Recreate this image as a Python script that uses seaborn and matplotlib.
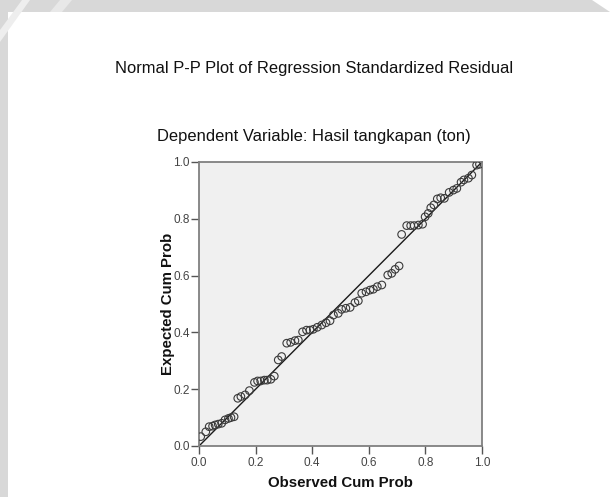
import matplotlib
matplotlib.use("Agg")
import matplotlib.pyplot as plt
import seaborn as sns
import pandas as pd
from matplotlib.patches import Polygon

# ---- data ----
observed_cum_prob = [
    0.006, 0.024, 0.036, 0.048, 0.057, 0.068, 0.080, 0.092, 0.104, 0.113, 0.124,
    0.137, 0.148, 0.163, 0.178, 0.196, 0.207, 0.218, 0.231, 0.241, 0.254, 0.266,
    0.280, 0.292, 0.310, 0.324, 0.339, 0.351, 0.366, 0.380, 0.392, 0.404, 0.418,
    0.434, 0.449, 0.463, 0.475, 0.492,
    0.504, 0.519, 0.534, 0.551, 0.563, 0.575, 0.590, 0.604, 0.616, 0.630, 0.646,
    0.667, 0.681, 0.693, 0.707,
    0.716, 0.734, 0.748, 0.760, 0.775, 0.790, 0.799, 0.810, 0.819, 0.830, 0.842,
    0.854, 0.867, 0.884, 0.899, 0.911, 0.926, 0.936, 0.952, 0.964, 0.981, 0.991,
]
expected_cum_prob = [
    0.033, 0.050, 0.068, 0.070, 0.074, 0.077, 0.080, 0.092, 0.097, 0.100, 0.103,
    0.168, 0.174, 0.180, 0.195, 0.224, 0.229, 0.229, 0.232, 0.232, 0.235, 0.246,
    0.303, 0.315, 0.362, 0.365, 0.371, 0.373, 0.402, 0.408, 0.408, 0.411, 0.418,
    0.426, 0.434, 0.441, 0.461, 0.467,
    0.481, 0.485, 0.488, 0.505, 0.511, 0.538, 0.543, 0.549, 0.552, 0.561, 0.567,
    0.602, 0.608, 0.622, 0.634,
    0.745, 0.776, 0.776, 0.776, 0.778, 0.781, 0.807, 0.819, 0.839, 0.849, 0.870,
    0.874, 0.872, 0.893, 0.901, 0.907, 0.929, 0.937, 0.943, 0.954, 0.989, 0.992,
]
reference_line = [0.0, 1.0]
tick_values = [0.0, 0.2, 0.4, 0.6, 0.8, 1.0]
tick_labels = ["0.0", "0.2", "0.4", "0.6", "0.8", "1.0"]

title_text = "Normal P-P Plot of Regression Standardized Residual"
subtitle_text = "Dependent Variable: Hasil tangkapan (ton)"
x_label = "Observed Cum Prob"
y_label = "Expected Cum Prob"

df = pd.DataFrame({"obs": observed_cum_prob, "exp": expected_cum_prob})

sns.set_theme(style="white")
plt.rcParams["font.family"] = ["Liberation Sans", "DejaVu Sans"]

W, H = 610, 497
fig = plt.figure(figsize=(W / 100, H / 100), dpi=100)
fig.patch.set_facecolor("white")

# page watermark decoration (figure-pixel polygons, top-left origin)
def fig_poly(pts, color):
    p = Polygon([(x / W, 1 - y / H) for x, y in pts], closed=True,
                transform=fig.transFigure, facecolor=color, edgecolor="none", zorder=0)
    fig.patches.append(p)

fig_poly([(0, 0), (592, 0), (610, 12), (8, 12), (8, 497), (0, 497)], "#d8d8d8")
fig_poly([(0, 30), (22, 0), (30, 0), (0, 42)], "#eeeeee")
fig_poly([(50, 12), (60, 0), (72, 0), (62, 12)], "#e8e8e8")

ax = fig.add_axes([199 / W, (H - 446) / H, 283 / W, 284 / H])
ax.set_facecolor("#f0f0f0")

sns.lineplot(x=reference_line, y=reference_line, ax=ax, color="#1a1a1a",
             linewidth=1.0, zorder=2)
sns.scatterplot(data=df, x="obs", y="exp", ax=ax, marker="o", s=30,
                facecolor="none", edgecolor="#3a3a3a", linewidth=0.8, zorder=3)

ax.set_xlim(0, 1)
ax.set_ylim(0, 1)
ax.set_xticks(tick_values)
ax.set_xticklabels(tick_labels)
ax.set_yticks(tick_values)
ax.set_yticklabels(tick_labels)
ax.tick_params(axis="both", which="both", direction="out", length=6, width=1.0,
               color="#555555", labelsize=8.5, labelcolor="#444444", pad=0.5)
ax.tick_params(axis="x", bottom=True, pad=2)
ax.tick_params(axis="y", left=True)
for s in ax.spines.values():
    s.set_color("#808080")
    s.set_linewidth(1.3)
    s.set_visible(True)

ax.set_xlabel(x_label, fontsize=10.8, fontweight="bold", color="#111111", labelpad=5)
ax.set_ylabel(y_label, fontsize=10.8, fontweight="bold", color="#111111", labelpad=-1)

fig.text(314 / W, 1 - 69 / H, title_text, ha="center", va="center",
         fontsize=11.9, color="#111111")
fig.text(314 / W, 1 - 137 / H, subtitle_text, ha="center", va="center",
         fontsize=11.9, color="#111111")

fig.savefig("out.png", dpi=100)
